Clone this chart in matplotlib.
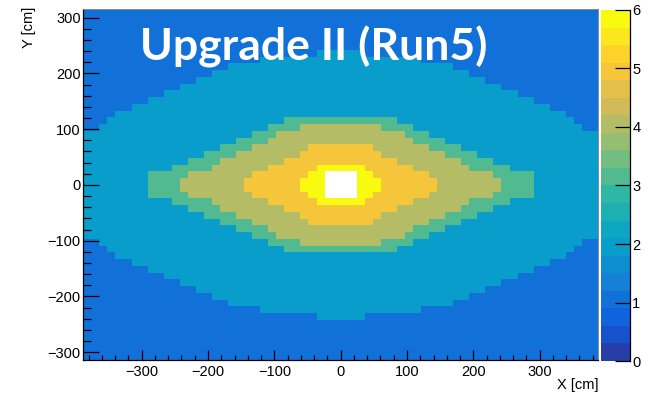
import numpy as np
import matplotlib
matplotlib.use('Agg')
import matplotlib.pyplot as plt
from matplotlib.colors import LinearSegmentedColormap, ListedColormap, BoundaryNorm
from matplotlib.ticker import MultipleLocator

# ECAL face binned in 12.12 cm cells
x_edges = np.linspace(-388, 388, 65)
y_edges = np.linspace(-315, 315, 53)

# value of each zone, from the outside in (last one is above the palette max -> white)
zone_values = [1.0, 2.0, 3.1, 4.0, 5.0, 5.9, 6.5]

# half height of each zone in cells (above and below y=0), per column
# counted from the centre column outwards; map is mirrored left/right and up/down
cyan_half = [20, 20, 20, 19, 19, 19, 19, 19, 19, 19, 18, 18, 18, 18, 17, 17,
             16, 16, 15, 15, 14, 14, 13, 13, 12, 12, 11, 11, 10, 9, 8, 8]
teal_half = [10, 10, 10, 10, 10, 10, 10, 9, 9, 8, 8, 7, 7, 6, 6, 5,
             5, 4, 4, 3, 3, 2, 2, 2]
olive_half = [9, 9, 9, 9, 9, 8, 8, 8, 7, 6, 6, 5, 5, 4, 4, 3, 2, 2, 2, 1]
orange_half = [6, 6, 6, 6, 5, 4, 4, 3, 3, 2, 2, 1]
yellow_half = [3, 3, 3, 2, 1]
white_half = [2, 2]

z_ticks = [0, 1, 2, 3, 4, 5, 6]
x_ticks = [-300, -200, -100, 0, 100, 200, 300]
y_ticks = [-300, -200, -100, 0, 100, 200, 300]

# ROOT kBird palette
bird_stops = [0.0000, 0.1250, 0.2500, 0.3750, 0.5000, 0.6250, 0.7500, 0.8750, 1.0000]
bird_red = [0.2082, 0.0592, 0.0780, 0.0232, 0.1802, 0.5301, 0.8186, 0.9956, 0.9764]
bird_green = [0.1664, 0.3599, 0.5041, 0.6419, 0.7178, 0.7492, 0.7328, 0.7862, 0.9832]
bird_blue = [0.5293, 0.8684, 0.8385, 0.7914, 0.6425, 0.4662, 0.3499, 0.1968, 0.0539]


def build_map():
    nx, ny = len(x_edges) - 1, len(y_edges) - 1
    z = np.full((ny, nx), zone_values[0])
    zones = [cyan_half, teal_half, olive_half, orange_half, yellow_half, white_half]
    for val, half in zip(zone_values[1:], zones):
        for k, h in enumerate(half):
            for col in (nx // 2 + k, nx // 2 - 1 - k):
                z[ny // 2 - h:ny // 2 + h, col] = val
    return z


bird = LinearSegmentedColormap.from_list(
    'bird', list(zip(bird_stops, zip(bird_red, bird_green, bird_blue))), N=255)
ndiv = 20
colors = [bird(int((i + 0.99) * 255 / ndiv) / 254.) for i in range(ndiv)]
cmap = ListedColormap(colors)
cmap.set_over('white')
norm = BoundaryNorm(np.linspace(0, 6, ndiv + 1), ndiv)

plt.rcParams['font.family'] = ['Liberation Sans', 'DejaVu Sans']
plt.rcParams['axes.unicode_minus'] = True

fig = plt.figure(figsize=(6.68, 3.93), dpi=100)
ax = fig.add_axes([0.1247, 0.0827, 0.7705, 0.8936])
cax = fig.add_axes([0.899, 0.0814, 0.0442, 0.8932])

z = build_map()
mesh = ax.pcolormesh(x_edges, y_edges, z, cmap=cmap, norm=norm,
                     linewidth=0, antialiased=False, rasterized=True)
ax.set_xlim(x_edges[0], x_edges[-1])
ax.set_ylim(y_edges[0], y_edges[-1])

ax.set_xticks(x_ticks)
ax.set_yticks(y_ticks)
ax.xaxis.set_minor_locator(MultipleLocator(20))
ax.yaxis.set_minor_locator(MultipleLocator(20))
ax.tick_params(direction='in', top=False, right=False, which='both',
               labelsize=10.5, color='black', width=0.9)
ax.tick_params(axis='x', which='major', length=7.2, pad=3.5)
ax.tick_params(axis='x', which='minor', length=3.6)
ax.tick_params(axis='y', which='major', length=11.5, pad=1.8)
ax.tick_params(axis='y', which='minor', length=5.8)
for s in ('left', 'bottom'):
    ax.spines[s].set_color('black')
    ax.spines[s].set_linewidth(0.9)
for s in ('top', 'right'):
    ax.spines[s].set_color('#8a8a8a')
    ax.spines[s].set_linewidth(0.7)

cb = fig.colorbar(mesh, cax=cax, ticks=z_ticks)
cb.outline.set_visible(False)
cax.tick_params(direction='in', length=11, width=0.9, labelsize=10.5, pad=1.5)
cax.minorticks_off()
cax.plot([1, 1], [0, 6], color='black', lw=0.9, clip_on=False)

fig.text(0.0437, 0.983, 'Y [cm]', rotation=90, ha='center', va='top', fontsize=10.5)
fig.text(0.8957, 0.0216, 'X [cm]', ha='right', va='center', fontsize=10.5)
fig.text(0.2096, 0.8473, 'Upgrade II (Run5)', color='white', fontsize=32,
         fontweight='bold', family=['Lato', 'DejaVu Sans'], va='baseline', ha='left')

fig.savefig('out.png', dpi=100)
